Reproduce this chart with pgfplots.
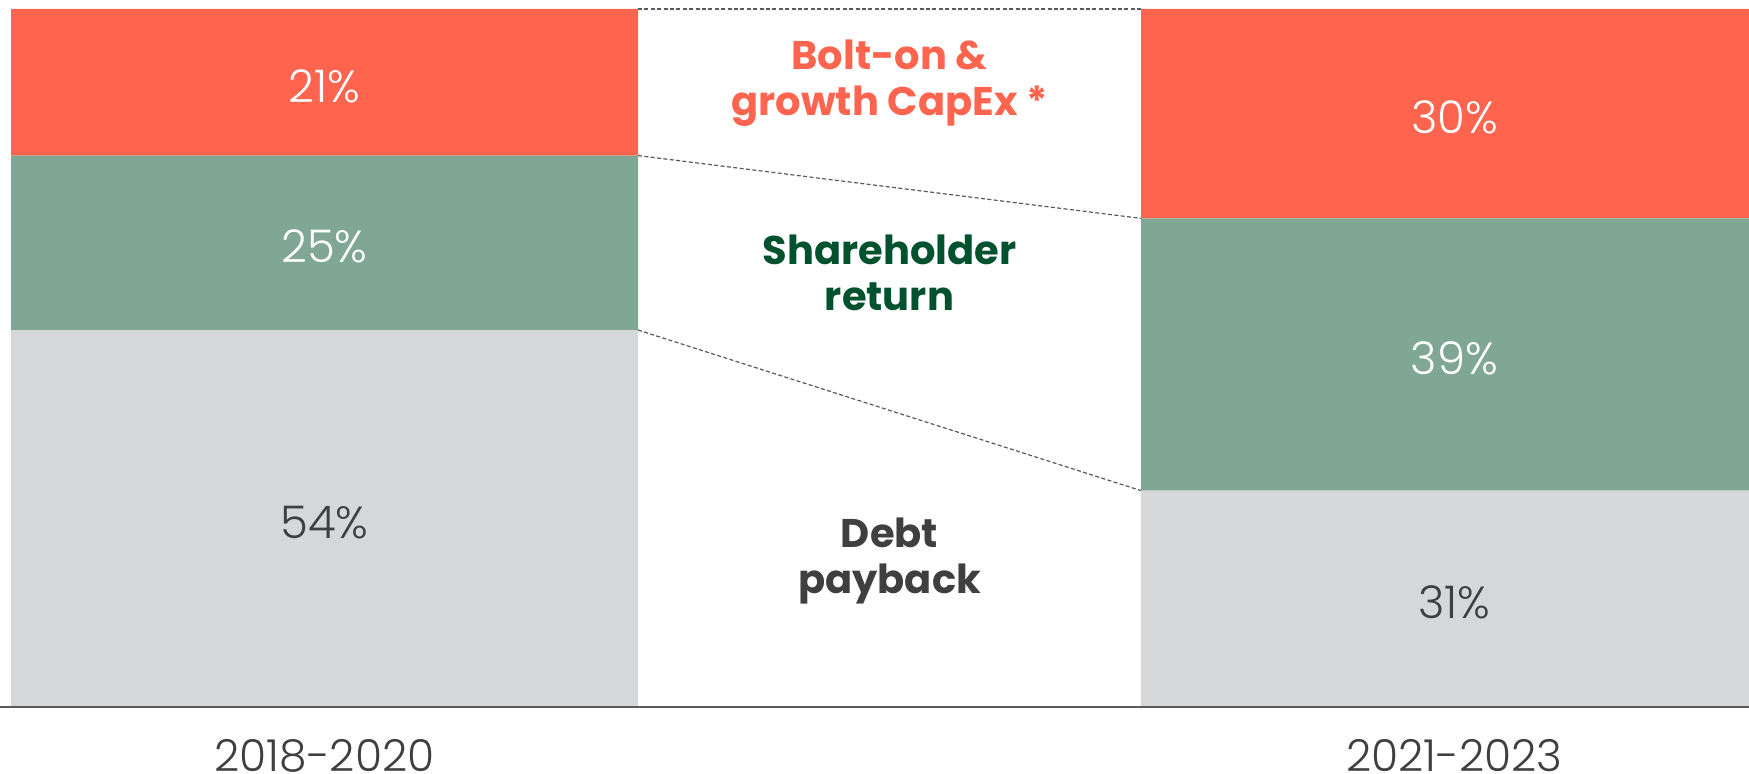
\documentclass[border=0pt]{standalone}
\usepackage{pgfplots}
\pgfplotsset{compat=1.18}
\usepackage{fontspec}
\setmainfont{Poppins}
\newfontfamily\lightfont{Poppins Light}
\definecolor{cred}{HTML}{FF644F}
\definecolor{cgreen}{HTML}{80A794}
\definecolor{cgray}{HTML}{D6D7D9}
\definecolor{dgreen}{HTML}{00512E}
\definecolor{dtext}{HTML}{3F3F3F}
\definecolor{aline}{HTML}{5A5A5A}
\begin{document}
\begin{tikzpicture}
\begin{axis}[
  name=ax, scale only axis, width=874.5pt, height=349pt,
  xmin=0, xmax=1749, ymin=0, ymax=100,
  ybar stacked, bar width=627,
  axis on top,
  axis y line=none, axis x line=bottom,
  x axis line style={-, draw=aline, line width=1.2pt},
  xtick={324.5,1454.5}, xticklabels={2018-2020,2021-2023},
  xtick style={draw=none},
  xticklabel style={font=\lightfont\fontsize{22}{22}\selectfont, text=dtext, anchor=base, inner sep=0pt, text depth=0pt, yshift=-30pt},
  ytick=\empty,
]
\addplot[fill=cgray, draw=none] coordinates {(324.5,54) (1454.5,31)};
\addplot[fill=cgreen, draw=none] coordinates {(324.5,25) (1454.5,39)};
\addplot[fill=cred, draw=none] coordinates {(324.5,21) (1454.5,30)};
\end{axis}
\begin{axis}[
  scale only axis, width=874.5pt, height=349pt,
  xmin=0, xmax=1749, ymin=0, ymax=100,
  hide axis, clip=false,
]
\addplot[aline, line width=0.6pt, dash pattern=on 2pt off 1.2pt] coordinates {(638,100) (1141,100)};
\addplot[aline, line width=0.6pt, dash pattern=on 2pt off 1.2pt] coordinates {(638,79) (1141,70)};
\addplot[aline, line width=0.6pt, dash pattern=on 2pt off 1.2pt] coordinates {(638,54) (1141,31)};
\begin{scope}[every node/.style={font=\lightfont\fontsize{22.5}{22.5}\selectfont, anchor=center, yshift=-2pt}]
\node[text=white] at (axis cs:324.5,89.5) {21\%};
\node[text=white] at (axis cs:324.5,66.5) {25\%};
\node[text=dtext] at (axis cs:324.5,27) {54\%};
\node[text=white] at (axis cs:1454.5,85) {30\%};
\node[text=white] at (axis cs:1454.5,50.5) {39\%};
\node[text=dtext] at (axis cs:1454.5,15.5) {31\%};
\end{scope}
\begin{scope}[every node/.style={font=\bfseries\fontsize{20}{23}\selectfont, align=center, anchor=center}]
\node[text=cred] at (axis cs:889.5,89.4) {Bolt-on \&\\growth CapEx *};
\node[text=dgreen] at (axis cs:889.5,62.2) {Shareholder\\return};
\node[text=dtext] at (axis cs:889.5,20.9) {Debt\\payback};
\end{scope}
\end{axis}
\pgfresetboundingbox
\path ([yshift=-33.5pt]ax.south west) rectangle ([yshift=4.5pt]ax.north east);
\end{tikzpicture}
\end{document}
